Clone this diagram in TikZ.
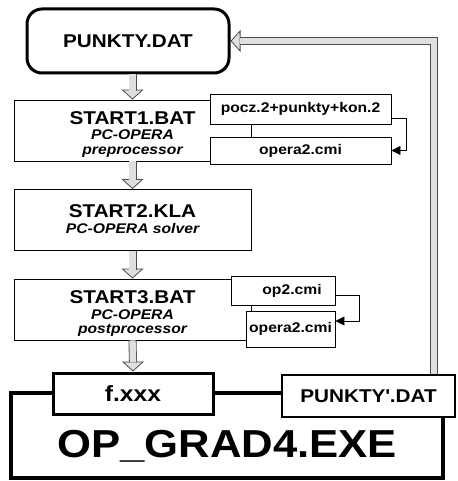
\documentclass[tikz,border=0pt]{standalone}
\usepackage{fontspec}
\setmainfont[FakeStretch=1.12]{Liberation Sans}
\usetikzlibrary{arrows.meta, calc}
\newcommand\opis[1]{{\itshape\fontsize{14pt}{15pt}\selectfont #1}}

\begin{document}
\begin{tikzpicture}[x=1pt, y=-1pt, font=\bfseries,
      blok/.style={draw, line width=0.9pt, fill=white, align=center, minimum width=237pt, minimum height=61pt, inner sep=0pt, text height=48pt, text depth=0pt, font=\bfseries\fontsize{18.5pt}{14.5pt}\selectfont},
      plik/.style={draw, line width=0.9pt, fill=white, align=center, inner sep=0pt, font=\bfseries\fontsize{14pt}{15pt}\selectfont},
      plikgruby/.style={draw, line width=3pt, fill=white, align=center, inner sep=0pt},
      duzyblok/.style={draw, line width=4pt, minimum width=432pt, minimum height=85pt, inner sep=0pt},
      szyna/.style={draw=black!70, line width=0.8pt, double=gray!25, double distance=6.4pt},
      grot/.style={draw=black!70, line width=0.8pt, -{Triangle[width=22pt, length=10pt, fill=gray!25]}},
      panah/.style={-{Triangle[length=9pt, width=9pt]}, line width=0.8pt}
    ]
    \useasboundingbox (0,0) rectangle (457,481);

    % ─── Plik wejsciowy ─────────────────────────────────────────
    \node[plikgruby, rounded corners=15pt, minimum width=202pt, minimum height=64pt, font=\bfseries\fontsize{18.5pt}{20pt}\selectfont] (punkty) at (128,41) {PUNKTY.DAT};

    % ─── Etapy PC-OPERA ─────────────────────────────────────────
    \node[blok] (start1) at (132.5,130.5) {START1.BAT\\[1pt] \opis{PC-OPERA}\\ \opis{preprocessor}};
    \node[blok, text height=27pt] (start2) at (132.5,220) {START2.KLA\\[2pt] \opis{PC-OPERA solver}};
    \node[blok] (start3) at (132.5,309.5) {START3.BAT\\[1pt] \opis{PC-OPERA}\\ \opis{postprocessor}};

    % ─── Pliki pomocnicze ───────────────────────────────────────
    \node[plik, minimum width=181pt, minimum height=30pt] (pocz)   at (300.5,109)   {pocz.2+punkty+kon.2};
    \node[plik, minimum width=181pt, minimum height=27pt] (opera1) at (300.5,150.5) {opera2.cmi};
    \node[plik, minimum width=104pt, minimum height=29pt] (op2)    at (283,290.5)   {\hspace{18pt}op2.cmi};
    \node[plik, minimum width=89pt,  minimum height=36pt] (opera3) at (290.5,329)   {opera2.cmi};

    % ─── OP_GRAD4.EXE ───────────────────────────────────────────
    \node[duzyblok] (exe) at (227,435.5) {};
    \node[font=\bfseries\fontsize{39pt}{40pt}\selectfont, inner sep=0pt] (exenapis) at (227,446) {OP\_GRAD4.EXE};
    \node[plikgruby, minimum width=160pt, minimum height=41pt, font=\bfseries\fontsize{22pt}{24pt}\selectfont] (fxxx) at (133,393.5) {f.xxx};
    \node[plik, line width=1.5pt, minimum width=173pt, minimum height=42pt, font=\bfseries\fontsize{18.5pt}{20pt}\selectfont] (punkty2) at (368.5,396) {PUNKTY\textquotesingle.DAT};

    % ─── Strzalki blokowe ───────────────────────────────────────
    \draw[grot] ($(start1.north)+(0,-10)$) -- (start1.north);
    \draw[szyna] (punkty.south -| start1.north) -- ($(start1.north)+(0,-9)$);

    \draw[grot] ($(start2.north)+(0,-10)$) -- (start2.north);
    \draw[szyna] (start1.south) -- ($(start2.north)+(0,-9)$);

    \draw[grot] ($(start3.north)+(0,-10)$) -- (start3.north);
    \draw[szyna] (start2.south) -- ($(start3.north)+(0,-9)$);

    \draw[grot] ($(fxxx.north)+(0,-10)$) -- (fxxx.north);
    \draw[szyna] (start3.south) -- ($(fxxx.north)+(0,-9)$);

    % powrot PUNKTY'.DAT -> PUNKTY.DAT
    \draw[grot] ($(punkty.east)+(10,0)$) -- (punkty.east);
    \draw[szyna] ($(punkty2.north east)+(-22,0)$) |- ($(punkty.east)+(9,0)$);

    % ─── Strzalki plikow ────────────────────────────────────────
    \draw[panah] ($(pocz.east)+(0,9)$) -- ++(15,0) |- (opera1.east);
    \draw[panah] ($(op2.east)+(0,4.5)$) -- ++(24,0) |- ($(opera3.east)+(0,-8)$);

    \end{tikzpicture}
\end{document}
